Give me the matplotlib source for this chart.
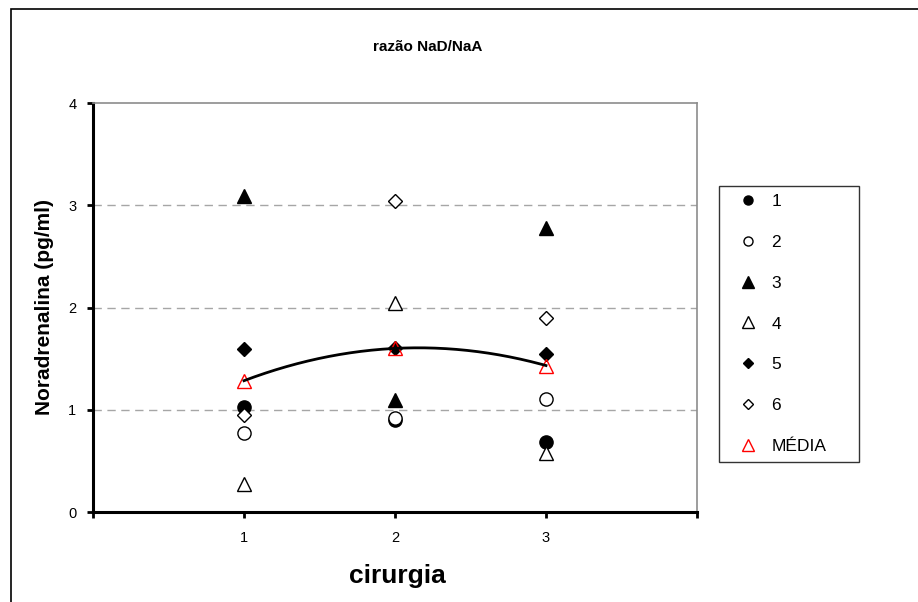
import numpy as np
import matplotlib
matplotlib.use("Agg")
import matplotlib.pyplot as plt
from matplotlib.patches import Rectangle
from matplotlib.lines import Line2D

plt.rcParams['font.family'] = ['Liberation Sans', 'DejaVu Sans']

# Surgery index and NaD/NaA ratio per subject
cirurgia = [1, 2, 3]
s1 = [1.03, 0.90, 0.68]
s2 = [0.775, 0.92, 1.11]
s3 = [3.09, 1.10, 2.78]
s4 = [0.27, 2.04, 0.58]
s5 = [1.59, 1.60, 1.545]
s6 = [0.95, 3.04, 1.90]

series_labels = ['1', '2', '3', '4', '5', '6']
mean_label = 'MÉDIA'

title = 'razão NaD/NaA'
xlabel = 'cirurgia'
ylabel = 'Noradrenalina (pg/ml)'

all_series = [s1, s2, s3, s4, s5, s6]
media = np.mean(np.array(all_series), axis=0)

W, H = 918, 602
fig = plt.figure(figsize=(W / 100, H / 100), dpi=100)
fig.patch.set_facecolor('white')

# chart frame (left and top edges visible)
fig.patches.append(Rectangle((11 / W, -0.2), 1.2, 1.2 - 9 / H,
                             transform=fig.transFigure, fill=False,
                             edgecolor='black', lw=1.2, clip_on=False))

ax = fig.add_axes([93 / W, (H - 512) / H, (697 - 93) / W, (512 - 103) / H])
ax.set_xlim(0, 4)
ax.set_ylim(0, 4)

styles = [
    dict(marker='o', mfc='black', mec='black', ms=9.5),
    dict(marker='o', mfc='white', mec='black', ms=9.5),
    dict(marker='^', mfc='black', mec='black', ms=10.5),
    dict(marker='^', mfc='white', mec='black', ms=10.5),
    dict(marker='D', mfc='black', mec='black', ms=7.5),
    dict(marker='D', mfc='white', mec='black', ms=7.5),
]
legend_styles = [
    dict(marker='o', mfc='black', mec='black', ms=6.5),
    dict(marker='o', mfc='white', mec='black', ms=6.5),
    dict(marker='^', mfc='black', mec='black', ms=8.5),
    dict(marker='^', mfc='white', mec='black', ms=8.5),
    dict(marker='D', mfc='black', mec='black', ms=5.0),
    dict(marker='D', mfc='white', mec='black', ms=5.0),
]

for i, (vals, st) in enumerate(zip(all_series, styles)):
    ax.plot(cirurgia, vals, linestyle='none', mew=1.0, zorder=3 + i * 0.1, **st)

ax.plot(cirurgia, media, linestyle='none', marker='^', mfc='none', mec='red',
        ms=10.5, mew=1.0, zorder=4)

# second-order polynomial trend through the means
coef = np.polyfit(cirurgia, media, 2)
xs = np.linspace(cirurgia[0], cirurgia[-1], 200)
ax.plot(xs, np.polyval(coef, xs), color='black', lw=2.0, zorder=5)

# grid lines
for yv in [1, 2, 3]:
    ax.axhline(yv, color='#a6a6a6', lw=1.0, linestyle=(0, (6, 4)), zorder=1)

for side in ['top', 'right']:
    ax.spines[side].set_color('#8c8c8c')
    ax.spines[side].set_linewidth(1.2)
for side in ['left', 'bottom']:
    ax.spines[side].set_color('black')
    ax.spines[side].set_linewidth(2.2)

ax.set_xticks([0, 1, 2, 3, 4])
ax.set_xticklabels(['', '1', '2', '3', ''])
ax.set_yticks([0, 1, 2, 3, 4])
ax.tick_params(axis='both', direction='out', length=4, width=2.0,
               color='black', labelsize=10.5)
ax.tick_params(axis='x', pad=10)
ax.tick_params(axis='y', pad=8)

fig.text(428 / W, 1 - 47 / H, title, ha='center', va='center',
         fontsize=11, fontweight='bold')
fig.text(397 / W, 1 - 576 / H, xlabel, ha='center', va='center',
         fontsize=19, fontweight='bold')
fig.text(45 / W, 1 - 307 / H, ylabel, ha='center', va='center',
         rotation=90, fontsize=15, fontweight='bold')

handles = [Line2D([], [], linestyle='none', mew=1.0, **st) for st in legend_styles]
handles.append(Line2D([], [], linestyle='none', marker='^', mfc='none',
                      mec='red', ms=8.5, mew=1.0))
labels = series_labels + [mean_label]
leg = fig.legend(handles, labels, loc='upper left',
                 bbox_to_anchor=(719 / W, (H - 460) / H, 140 / W, 274 / H),
                 mode='expand', frameon=True, fancybox=False,
                 edgecolor='black', fontsize=12.5, labelspacing=1.48,
                 handlelength=2.47, handletextpad=0.1, borderpad=0.45,
                 borderaxespad=0.0)
leg.get_frame().set_linewidth(1.0)

fig.savefig('out.png', dpi=100, facecolor='white')
